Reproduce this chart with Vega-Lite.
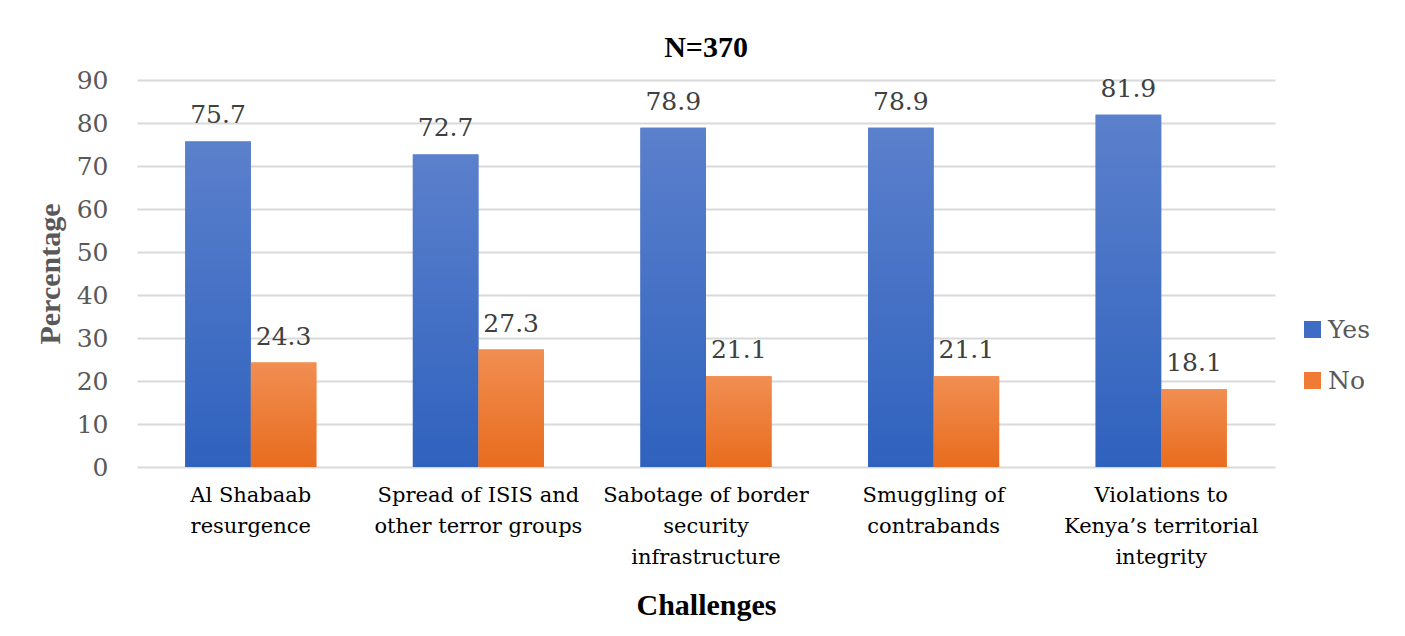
{
  "$schema": "https://vega.github.io/schema/vega-lite/v6.json",
  "autosize": {"type": "none"},
  "width": 1138,
  "height": 387,
  "padding": {"left": 137, "top": 80, "right": 130, "bottom": 169},
  "background": "white",
  "title": {
    "text": "N=370",
    "font": "Liberation Serif",
    "fontSize": 30,
    "fontWeight": "bold",
    "color": "#000000",
    "anchor": "middle",
    "offset": 5
  },
  "data": {
    "values": [
      {"challenge": "Al Shabaab resurgence", "response": "Yes", "pct": 75.7},
      {"challenge": "Al Shabaab resurgence", "response": "No", "pct": 24.3},
      {"challenge": "Spread of ISIS and other terror groups", "response": "Yes", "pct": 72.7},
      {"challenge": "Spread of ISIS and other terror groups", "response": "No", "pct": 27.3},
      {"challenge": "Sabotage of border security infrastructure", "response": "Yes", "pct": 78.9},
      {"challenge": "Sabotage of border security infrastructure", "response": "No", "pct": 21.1},
      {"challenge": "Smuggling of contrabands", "response": "Yes", "pct": 78.9},
      {"challenge": "Smuggling of contrabands", "response": "No", "pct": 21.1},
      {"challenge": "Violations to Kenya’s territorial integrity", "response": "Yes", "pct": 81.9},
      {"challenge": "Violations to Kenya’s territorial integrity", "response": "No", "pct": 18.1}
    ]
  },
  "encoding": {
    "x": {
      "field": "challenge",
      "type": "nominal",
      "sort": null,
      "scale": {"paddingInner": 0.424, "paddingOuter": 0.212},
      "axis": {
        "title": "Challenges",
        "titleFont": "Liberation Serif",
        "titleFontSize": 30,
        "titleFontWeight": "bold",
        "titleColor": "#000000",
        "titlePadding": 23,
        "labelAngle": 0,
        "labelFont": "DejaVu Serif",
        "labelFontSize": 21,
        "labelColor": "#000000",
        "labelLineHeight": 31,
        "labelPadding": 17,
        "labelLimit": 400,
        "domain": false,
        "ticks": false,
        "labelExpr": "datum.label == 'Al Shabaab resurgence' ? ['Al Shabaab', 'resurgence'] : datum.label == 'Spread of ISIS and other terror groups' ? ['Spread of ISIS and', 'other terror groups'] : datum.label == 'Sabotage of border security infrastructure' ? ['Sabotage of border', 'security', 'infrastructure'] : datum.label == 'Smuggling of contrabands' ? ['Smuggling of', 'contrabands'] : ['Violations to', 'Kenya’s territorial', 'integrity']"
      }
    },
    "xOffset": {"field": "response", "type": "nominal", "scale": {"domain": ["Yes", "No"]}},
    "y": {
      "field": "pct",
      "type": "quantitative",
      "scale": {"domain": [0, 90]},
      "axis": {
        "title": "Percentage",
        "titleFont": "Liberation Serif",
        "titleFontSize": 30,
        "titleFontWeight": "bold",
        "titleColor": "#595959",
        "titlePadding": 11,
        "values": [0, 10, 20, 30, 40, 50, 60, 70, 80, 90],
        "labelFont": "DejaVu Serif",
        "labelFontSize": 25,
        "labelColor": "#595959",
        "labelPadding": 29,
        "domain": false,
        "ticks": false,
        "grid": true,
        "gridColor": "#D9D9D9",
        "gridWidth": 2
      }
    }
  },
  "layer": [
    {
      "mark": {"type": "bar"},
      "encoding": {
        "color": {
          "field": "response",
          "type": "nominal",
          "scale": {"domain": ["Yes", "No"], "range": ["#3F6CC5", "#EF7B35"]},
          "legend": {
            "title": null,
            "orient": "none",
            "legendX": 1163,
            "legendY": 237,
            "symbolType": "square",
            "symbolSize": 289,
            "symbolStrokeWidth": 0,
            "labelFont": "DejaVu Serif",
            "labelFontSize": 25,
            "labelColor": "#595959",
            "labelOffset": 3,
            "rowPadding": 25
          }
        }
      }
    },
    {
      "transform": [{"filter": "datum.response == 'Yes'"}],
      "mark": {
        "type": "bar",
        "fill": {
          "gradient": "linear",
          "x1": 0, "y1": 0, "x2": 0, "y2": 1,
          "stops": [
            {"offset": 0, "color": "#5B80CC"},
            {"offset": 1, "color": "#2F62BE"}
          ]
        }
      }
    },
    {
      "transform": [{"filter": "datum.response == 'No'"}],
      "mark": {
        "type": "bar",
        "fill": {
          "gradient": "linear",
          "x1": 0, "y1": 0, "x2": 0, "y2": 1,
          "stops": [
            {"offset": 0, "color": "#F18E52"},
            {"offset": 1, "color": "#E86C1E"}
          ]
        }
      }
    },
    {
      "mark": {
        "type": "text",
        "baseline": "alphabetic",
        "dy": -18,
        "font": "DejaVu Serif",
        "fontSize": 25,
        "color": "#404040"
      },
      "encoding": {"text": {"field": "pct", "type": "quantitative", "format": ".1f"}}
    }
  ],
  "config": {"view": {"stroke": null}}
}
